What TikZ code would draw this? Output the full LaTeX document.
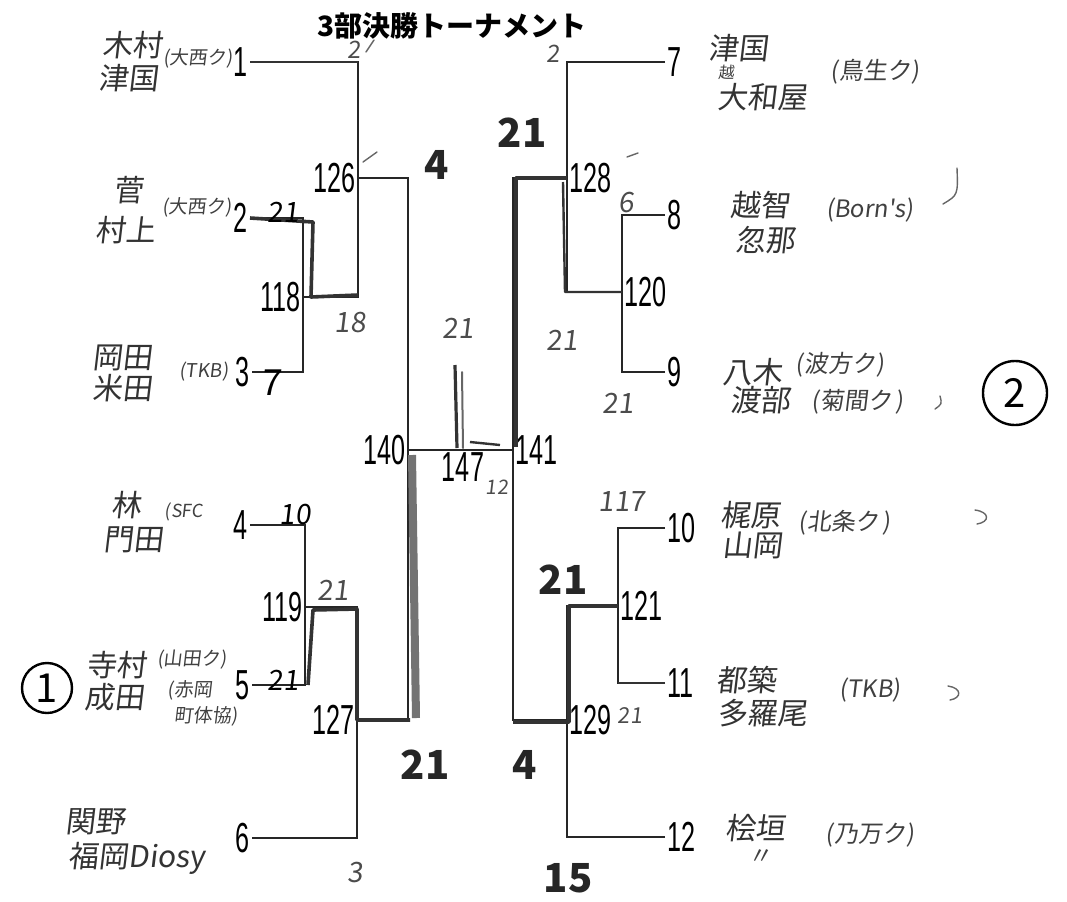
\documentclass[tikz,border=0pt]{standalone}
\usepackage{fontspec}
\setmainfont{Liberation Sans}
\newfontfamily\jp{Noto Sans CJK JP}
\newfontfamily\hand[FakeSlant=0.12]{Noto Sans CJK JP}
\newfontfamily\narrow[FakeStretch=0.6]{Liberation Sans}
\begin{document}
\begin{tikzpicture}[x=0.5pt,y=-0.5pt]
  \tikzset{
    bracket/.style={draw=black!85,line width=0.9pt},
    winner/.style={draw=black!80,line width=1.8pt,line join=round},
    pen/.style={draw=black!60,line width=0.7pt,line cap=round},
    seednum/.style={font=\narrow\fontsize{21}{21}\selectfont,inner sep=1pt},
    matchnum/.style={font=\narrow\fontsize{21}{21}\selectfont,inner sep=1.2pt},
    player/.style={font=\hand\fontsize{15}{15}\selectfont,text=black!80,inner sep=0pt},
    club/.style={font=\hand\fontsize{12}{12}\selectfont,text=black!75,inner sep=0pt},
    smallclub/.style={club,font=\hand\fontsize{9.5}{9.5}\selectfont},
    score/.style={font=\hand\fontsize{14}{14}\selectfont,text=black!70,inner sep=0pt},
    bigscore/.style={font=\jp\bfseries\fontsize{20}{20}\selectfont,text=black!85,inner sep=0pt},
    ring/.style={circle,draw,line width=1.2pt,inner sep=0pt,font=\jp\fontsize{20}{20}\selectfont}
  }
  \useasboundingbox (0,0) rectangle (1067,901);

  \node[font=\jp\bfseries\fontsize{14}{14}\selectfont] (title) at (452,26) {3部決勝トーナメント};

  % bracket corners
  \coordinate (c118) at (303,297);
  \coordinate (c126) at (358,178);
  \coordinate (c119) at (305,607);
  \coordinate (c127) at (357,720);
  \coordinate (c140) at (408,450);
  \coordinate (c147) at (455,450);
  \coordinate (c141) at (513,450);
  \coordinate (c128) at (567,178);
  \coordinate (c120) at (622,292);
  \coordinate (c121) at (618,606);
  \coordinate (c129) at (567,720);

  % seeds, left
  \node[seednum,anchor=east] (n1) at (250,62) {1};
  \node[seednum,anchor=east] (n2) at (250,218) {2};
  \node[seednum,anchor=east] (n3) at (252,372) {3};
  \node[seednum,anchor=east] (n4) at (250,525) {4};
  \node[seednum,anchor=east] (n5) at (252,685) {5};
  \node[seednum,anchor=east] (n6) at (252,838) {6};
  % seeds, right
  \node[seednum,anchor=west] (n7) at (665,62) {7};
  \node[seednum,anchor=west] (n8) at (665,215) {8};
  \node[seednum,anchor=west] (n9) at (665,372) {9};
  \node[seednum,anchor=west] (n10) at (665,528) {10};
  \node[seednum,anchor=west] (n11) at (665,683) {11};
  \node[seednum,anchor=west] (n12) at (665,837) {12};

  % match numbers
  \node[matchnum,anchor=east] (l118) at (c118) {118};
  \node[matchnum,anchor=east] (l126) at (c126) {126};
  \node[matchnum,anchor=east] (l119) at (c119) {119};
  \node[matchnum,anchor=east] (l127) at (c127) {127};
  \node[matchnum,anchor=east] (l140) at (c140) {140};
  \node[matchnum,anchor=north] (l147) at ([xshift=4pt]c147) {147};
  \node[matchnum,anchor=west] (l141) at (c141) {141};
  \node[matchnum,anchor=west] (l128) at (c128) {128};
  \node[matchnum,anchor=west] (l120) at (c120) {120};
  \node[matchnum,anchor=west] (l121) at (c121) {121};
  \node[matchnum,anchor=west] (l129) at (c129) {129};

  % bracket lines
  \draw[bracket] (n1.east) -| (c126);
  \draw[bracket] (n2.east) -| (c118);
  \draw[bracket] (n3.east) -| (c118);
  \draw[bracket] (c118) -| (c126);
  \draw[bracket] (n4.east) -| (c119);
  \draw[bracket] (n5.east) -| (c119);
  \draw[bracket] (c119) -| (c127);
  \draw[bracket] (n6.east) -| (c127);
  \draw[bracket] (c126) -| (c140);
  \draw[bracket] (c127) -| (c140);
  \draw[bracket] (n7.west) -| (c128);
  \draw[bracket] (n8.west) -| (c120);
  \draw[bracket] (n9.west) -| (c120);
  \draw[bracket] (c120) -| (c128);
  \draw[bracket] (n10.west) -| (c121);
  \draw[bracket] (n11.west) -| (c121);
  \draw[bracket] (c121) -| (c129);
  \draw[bracket] (n12.west) -| (c129);
  \draw[bracket] (c128) -| (c141);
  \draw[bracket] (c129) -| (c141);
  \draw[bracket] (c140) -- (c147) -- (c141);

  % winners traced by pen
  \draw[winner,line width=1.2pt] (n1.east) -- (c126 |- n1.east);
  \draw[winner] (n2.east) -- (313,222) -- (311,297) -- (358,295);
  \draw[winner] (308,685) -- (313,610) -- (357,609) -- (357,720) -- (410,720);
  \draw[draw=black!55,line width=4pt] (412,455) -- (416,718);
  \draw[winner] (567,178) -- (516,178) -- (516,447);
  \draw[winner,line width=1.2pt] (563,182) -- (565,292) -- (622,292);
  \draw[winner] (618,606) -- (569,606) -- (569,722) -- (513,722);
  \draw[winner,line width=1.4pt] (c121 |- n11.west) -- (n11.west);
  \draw[winner,line width=1.6pt] (455,365) -- (457,448);
  \draw[pen,line width=1pt] (462,372) -- (463,448);
  \draw[winner,line width=1.2pt] (470,442) -- (500,445);

  % players, left
  \node[player] (p1a) at (132,45) {木村};
  \node[player] (p1b) at (128,78) {津国};
  \node[smallclub] (k1) at (198,58) {(大西ク)};
  \node[player] (p2a) at (128,190) {菅};
  \node[player] (p2b) at (125,230) {村上};
  \node[smallclub] (k2) at (197,207) {(大西ク)};
  \node[player] (p3a) at (122,358) {岡田};
  \node[player] (p3b) at (122,388) {米田};
  \node[smallclub] (k3) at (204,372) {(TKB)};
  \node[player] (p4a) at (127,505) {林};
  \node[player] (p4b) at (133,540) {門田};
  \node[club,font=\hand\fontsize{9}{9}\selectfont] (k4) at (184,512) {(SFC};
  \node[player,anchor=west] (p5a) at (86,665) {寺村};
  \node[smallclub] (k5a) at (192,660) {(山田ク)};
  \node[player,anchor=west] (p5b) at (84,697) {成田};
  \node[smallclub] (k5b) at (190,690) {(赤岡};
  \node[smallclub] (k5c) at (206,716) {町体協)};
  \node[player] (p6a) at (95,822) {関野};
  \node[player,anchor=west] (p6b) at (68,858) {福岡Diosy};

  % players, right
  \node[player] (p7a) at (738,48) {津国};
  \node[club,font=\hand\fontsize{8}{8}\selectfont] (p7s) at (726,72) {越};
  \node[player] (p7b) at (762,97) {大和屋};
  \node[club] (k7) at (875,72) {(鳥生ク)};
  \node[player] (p8a) at (760,205) {越智};
  \node[player] (p8b) at (765,240) {忽那};
  \node[club] (k8) at (870,210) {(Born's)};
  \node[player] (p9a) at (752,372) {八木};
  \node[club] (k9a) at (840,365) {(波方ク)};
  \node[player] (p9b) at (760,400) {渡部};
  \node[club] (k9b) at (858,402) {(菊間ク\,)};
  \node[player] (p10a) at (750,515) {梶原};
  \node[player] (p10b) at (752,545) {山岡};
  \node[club] (k10) at (845,523) {(北条ク\,)};
  \node[player] (p11a) at (746,680) {都築};
  \node[player] (p11b) at (762,713) {多羅尾};
  \node[club] (k11) at (870,690) {(TKB)};
  \node[player] (p12a) at (755,828) {桧垣};
  \node[club] (p12b) at (760,857) {〃};
  \node[club] (k12) at (870,835) {(乃万ク)};

  % pool marks
  \node[ring,minimum size=25pt] (r1) at (47,688) {1};
  \node[ring,minimum size=32pt] (r2) at (1015,393) {2};

  % checks
  \draw[pen] (957,168) .. controls (958,195) .. (943,204);
  \draw[pen] (940,396) .. controls (942,404) .. (935,409);
  \draw[pen] (975,510) .. controls (990,512) and (990,522) .. (977,524);
  \draw[pen] (948,686) .. controls (962,688) and (962,698) .. (950,700);

  % scores
  \node[score,font=\hand\fontsize{12}{12}\selectfont] (sc1) at (354,50) {2};
  \draw[pen] (366,52) -- (374,40);
  \draw[pen] (363,162) -- (377,152);
  \node[bigscore] (sc2) at (437,165) {4};
  \node[bigscore] (sc3) at (522,133) {21};
  \node[score,text=black] (sc4) at (283,212) {21};
  \node[score] (sc5) at (350,323) {18};
  \node[score,text=black,font=\hand\fontsize{18}{18}\selectfont] (sc6) at (270,383) {7};
  \node[score] (sc7) at (458,328) {21};
  \node[score] (sc8) at (562,340) {21};
  \node[score,font=\hand\fontsize{12}{12}\selectfont] (sc9) at (553,54) {2};
  \node[score] (sc10) at (626,203) {6};
  \draw[pen] (627,157) -- (638,153);
  \node[score] (sc11) at (618,403) {21};
  \node[score,text=black] (sc12) at (295,515) {10};
  \node[score] (sc13) at (333,590) {21};
  \node[score,text=black] (sc14) at (283,680) {21};
  \node[bigscore] (sc15) at (425,765) {21};
  \node[bigscore] (sc16) at (525,765) {4};
  \node[score] (sc17) at (355,873) {3};
  \node[score,font=\hand\fontsize{10}{10}\selectfont] (sc18) at (497,487) {12};
  \node[score] (sc19) at (622,502) {117};
  \node[bigscore] (sc20) at (563,580) {21};
  \node[score,font=\hand\fontsize{11}{11}\selectfont] (sc21) at (630,716) {21};
  \node[bigscore] (sc22) at (568,878) {15};
\end{tikzpicture}
\end{document}
